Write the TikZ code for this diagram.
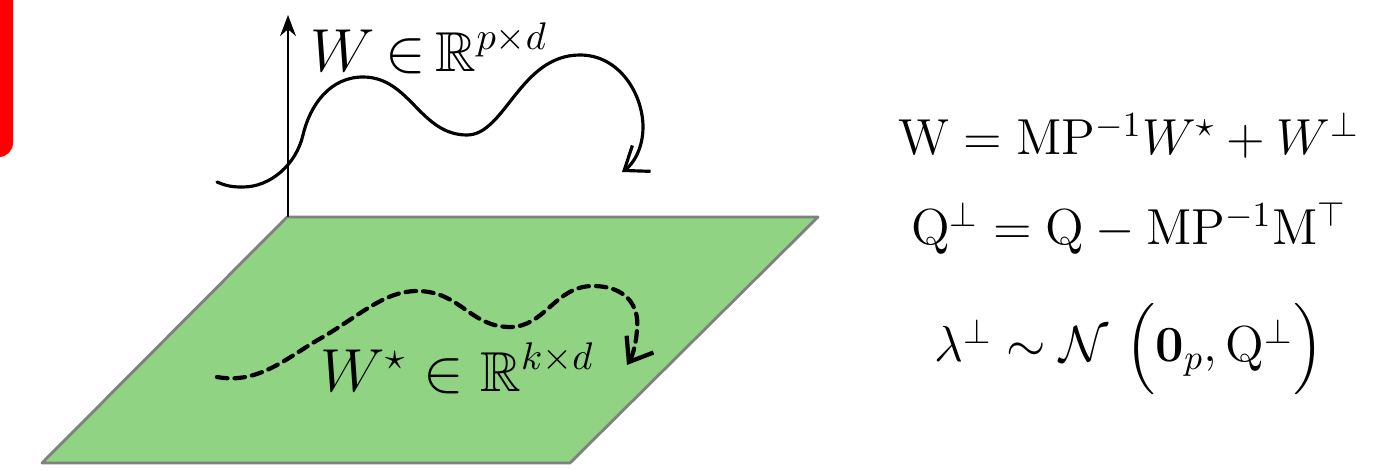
\documentclass[tikz,border=0pt]{standalone}
\usepackage{amsmath,amssymb}
\usetikzlibrary{arrows.meta}
\definecolor{planegreen}{RGB}{143,211,131}
\definecolor{planeedge}{RGB}{128,128,128}
\tikzset{
	path/.style={line width=0.9pt,-{Straight Barb[length=6pt,width=9pt]}},
	proj/.style={line width=1.2pt,dash pattern=on 3pt off 2pt,-{Straight Barb[length=6pt,width=9pt]}},
	lbl/.style={font=\fontsize{16}{18}\selectfont,anchor=base west,inner sep=0pt},
	eq/.style={font=\fontsize{14.4}{17}\selectfont,anchor=base}
}
\begin{document}
\begin{tikzpicture}[line join=round,line cap=round,x=0.01cm,y=-0.01cm]
		\useasboundingbox (0,0) rectangle (1378,470);
		\fill[red,rounded corners=4] (-20,-20) rectangle (13,157);
		% plane
		\draw[fill=planegreen,draw=planeedge,line width=0.8pt] (287,217)--(818,217)--(570,463)--(42,463)--cycle;
		\draw[line width=0.6pt,-{Stealth[length=6pt,width=4.5pt]}] (288,216)--(288,15);
		\draw[path] (217,182) .. controls (228,187) and (236,187) .. (243,187)
			.. controls (270,187) and (296,165) .. (303,135)
			.. controls (310,105) and (330,77) .. (363,77)
			.. controls (410,77) and (420,135) .. (467,135)
			.. controls (505,135) and (520,55) .. (580,55)
			.. controls (620,55) and (643,95) .. (643,127)
			.. controls (643,150) and (632,165) .. (622,172);
		\draw[proj] (217,377) .. controls (260,385) and (290,355) .. (323,337)
			.. controls (360,315) and (385,291) .. (417,291)
			.. controls (460,291) and (470,327) .. (510,327)
			.. controls (545,327) and (555,286) .. (593,286)
			.. controls (625,286) and (640,305) .. (637,330)
			.. controls (636,345) and (632,357) .. (627,365);
		\node[lbl] (Wfull) at (310,72) {$\thickmuskip=3mu W\in\mathbb{R}^{p\times d}$};
		\node[lbl] (Wstar) at (320,392) {$W^{\star}\in\mathbb{R}^{k\times d}$};
		% equations
		\node[eq] (eqW) at (1129,155) {$\mathrm{W}=\mathrm{M}\mathrm{P}^{-1}W^{\star}+W^{\perp}$};
		\node[eq] (eqQ) at (1129,245) {$\mathrm{Q}^{\perp}=\mathrm{Q}-\mathrm{M}\mathrm{P}^{-1}\mathrm{M}^{\top}$};
		\node[eq] (eqL) at (1129,362) {$\lambda^{\perp}\sim\mathcal{N}\,\left(\rule[-8pt]{0pt}{22pt}\mathbf{0}_p,\mathrm{Q}^{\perp}\right)$};
	\end{tikzpicture}
\end{document}
